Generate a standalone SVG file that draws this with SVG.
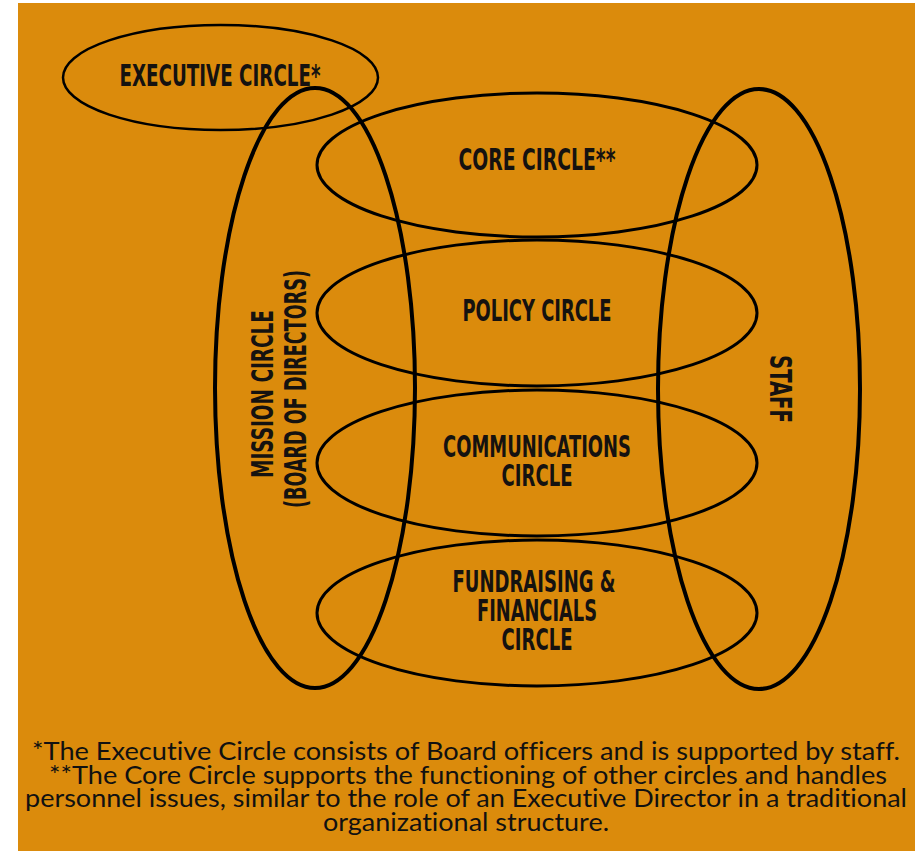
<svg xmlns="http://www.w3.org/2000/svg" width="921" height="851" viewBox="0 0 921 851">
<style>
.bg{fill:#DB8B0C}
.e{fill:none;stroke:#000}
.t{font-family:"Liberation Sans Narrow","DejaVu Sans Condensed","Liberation Sans",sans-serif;font-weight:bold;font-size:30px;fill:#151210;text-anchor:middle}
.f{font-family:Lato,"Noto Sans","Open Sans",sans-serif;font-size:25px;fill:#111;text-anchor:middle;font-variant-ligatures:none}
</style>
<rect class="bg" x="18" y="3" width="897" height="848"/>
<g id="executive"><ellipse class="e" stroke-width="2.5" cx="220.5" cy="77.5" rx="157.5" ry="52.5"/>
<text class="t" x="220" y="86" textLength="201" lengthAdjust="spacingAndGlyphs">EXECUTIVE CIRCLE*</text></g>
<g id="core"><ellipse class="e" stroke-width="3" cx="537" cy="165" rx="220" ry="72"/>
<text class="t" x="537" y="170" textLength="157" lengthAdjust="spacingAndGlyphs">CORE CIRCLE**</text></g>
<g id="policy"><ellipse class="e" stroke-width="3" cx="537" cy="313" rx="220" ry="73"/>
<text class="t" x="537" y="321" textLength="149" lengthAdjust="spacingAndGlyphs">POLICY CIRCLE</text></g>
<g id="communications"><ellipse class="e" stroke-width="3" cx="537" cy="463" rx="220" ry="73"/>
<text class="t" x="537" y="457" textLength="188" lengthAdjust="spacingAndGlyphs">COMMUNICATIONS</text>
<text class="t" x="537" y="486" textLength="71" lengthAdjust="spacingAndGlyphs">CIRCLE</text></g>
<g id="fundraising"><ellipse class="e" stroke-width="3" cx="537" cy="613" rx="220" ry="73"/>
<text class="t" x="534" y="592" textLength="163" lengthAdjust="spacingAndGlyphs">FUNDRAISING &amp;</text>
<text class="t" x="537" y="621" textLength="120" lengthAdjust="spacingAndGlyphs">FINANCIALS</text>
<text class="t" x="537" y="650" textLength="71" lengthAdjust="spacingAndGlyphs">CIRCLE</text></g>
<g id="mission"><ellipse class="e" stroke-width="4" cx="315" cy="388" rx="100" ry="300"/>
<text class="t" transform="translate(273,394) rotate(-90)" textLength="168" lengthAdjust="spacingAndGlyphs">MISSION CIRCLE</text>
<text class="t" transform="translate(306,389) rotate(-90)" textLength="238" lengthAdjust="spacingAndGlyphs">(BOARD OF DIRECTORS)</text></g>
<g id="staff"><ellipse class="e" stroke-width="4" cx="759" cy="389" rx="101" ry="300"/>
<text class="t" transform="translate(770,389) rotate(90)" textLength="68" lengthAdjust="spacingAndGlyphs">STAFF</text></g>
<g id="connectors"></g>
<g id="footnote">
<text class="f" x="466" y="760" textLength="868" lengthAdjust="spacingAndGlyphs">*The Executive Circle consists of Board officers and is supported by staff.</text>
<text class="f" x="468" y="784" textLength="838" lengthAdjust="spacingAndGlyphs">**The Core Circle supports the functioning of other circles and handles</text>
<text class="f" x="466" y="807" textLength="882" lengthAdjust="spacingAndGlyphs">personnel issues, similar to the role of an Executive Director in a traditional</text>
<text class="f" x="466" y="831" textLength="286" lengthAdjust="spacingAndGlyphs">organizational structure.</text>
</g>
</svg>
